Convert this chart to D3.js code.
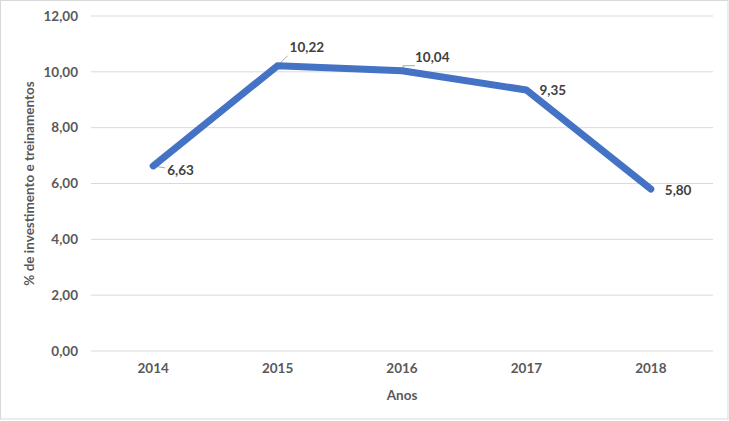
<!DOCTYPE html>
<html><head><meta charset="utf-8">
<script src="https://cdn.jsdelivr.net/npm/d3@7"></script>
<style>body{margin:0;background:#fff}svg{display:block}</style>
</head><body>
<script>
const categories = ["2014","2015","2016","2017","2018"];
const values = [6.63, 10.22, 10.04, 9.35, 5.80];
const yTicks = [0,2,4,6,8,10,12];
const labels = ["6,63","10,22","10,04","9,35","5,80"];
// label offsets (dx, dy) relative to point, and whether a leader line is drawn
const labelOffsets = [[14,4],[12,-18],[13,-13],[13,0],[14,1]];
const leaders = [true,true,true,false,false];

const W=729,H=421;
const svg=d3.select("body").append("svg").attr("width",W).attr("height",H);
svg.append("rect").attr("x",0.5).attr("y",0.5).attr("width",W-1.5).attr("height",H-2.5)
  .attr("fill","#fff").attr("stroke","#d9d9d9");

const m={l:91,r:16,t:16,b:70};
const x=d3.scaleBand().domain(categories).range([m.l,W-m.r]);
const y=d3.scaleLinear().domain([0,12]).range([H-m.b,m.t]);
const font="Lato, 'Open Sans', sans-serif";
const col="#595959";

const g=svg.append("g");
g.selectAll("line.grid").data(yTicks).enter().append("line")
  .attr("x1",m.l).attr("x2",W-m.r).attr("y1",d=>y(d)).attr("y2",d=>y(d))
  .attr("stroke","#d9d9d9").attr("stroke-width",1);

const yAxis=d3.axisLeft(y).tickValues(yTicks).tickSize(0).tickPadding(13)
  .tickFormat(d=>d3.format(".2f")(d).replace(".",","));
const ya=svg.append("g").attr("transform",`translate(${m.l},0)`).call(yAxis);
ya.select(".domain").remove();
ya.selectAll("text").attr("font-family",font).attr("font-size",13.5).attr("font-weight","bold").attr("fill",col);

const xAxis=d3.axisBottom(x).tickSize(0).tickPadding(12);
const xa=svg.append("g").attr("transform",`translate(0,${y(0)})`).call(xAxis);
xa.select(".domain").remove();
xa.selectAll("text").attr("font-family",font).attr("font-size",13.5).attr("font-weight","bold").attr("fill",col);

svg.append("text").attr("x",(m.l+W-m.r)/2).attr("y",400).attr("text-anchor","middle")
  .attr("font-family",font).attr("font-size",13.5).attr("font-weight","bold").attr("fill",col).text("Anos");
svg.append("text").attr("transform",`translate(34,${(y(0)+y(12))/2}) rotate(-90)`).attr("text-anchor","middle")
  .attr("font-family",font).attr("font-size",13.5).attr("font-weight","bold").attr("fill",col).text("% de investimento e treinamentos");

const data=categories.map((c,i)=>({c,v:values[i],l:labels[i],o:labelOffsets[i],ld:leaders[i]}));
const px=d=>x(d.c)+x.bandwidth()/2;

// leader lines
svg.selectAll("path.leader").data(data.filter(d=>d.ld)).enter().append("path")
  .attr("d",d=>{
    const x0=px(d),y0=y(d.v);
    const lx=x0+d.o[0]-2, ly=y0+d.o[1]-(d.o[1]>0?2:-8);
    if(d.c==="2016") return `M${x0+1},${y0-1}L${x0+1},${ly}L${lx+2},${ly}`;
    return `M${x0},${y0}L${lx},${ly}`;
  })
  .attr("fill","none").attr("stroke","#a6a6a6").attr("stroke-width",1);

const line=d3.line().x(px).y(d=>y(d.v));
svg.append("path").datum(data).attr("d",line).attr("fill","none")
  .attr("stroke","#4472C4").attr("stroke-width",7).attr("stroke-linecap","round").attr("stroke-linejoin","round");

svg.selectAll("text.lbl").data(data).enter().append("text")
  .attr("x",d=>px(d)+d.o[0]).attr("y",d=>y(d.v)+d.o[1]).attr("dy","0.35em")
  .attr("font-family",font).attr("font-size",13.5).attr("font-weight","bold").attr("fill","#404040").text(d=>d.l);
</script>
</body></html>
